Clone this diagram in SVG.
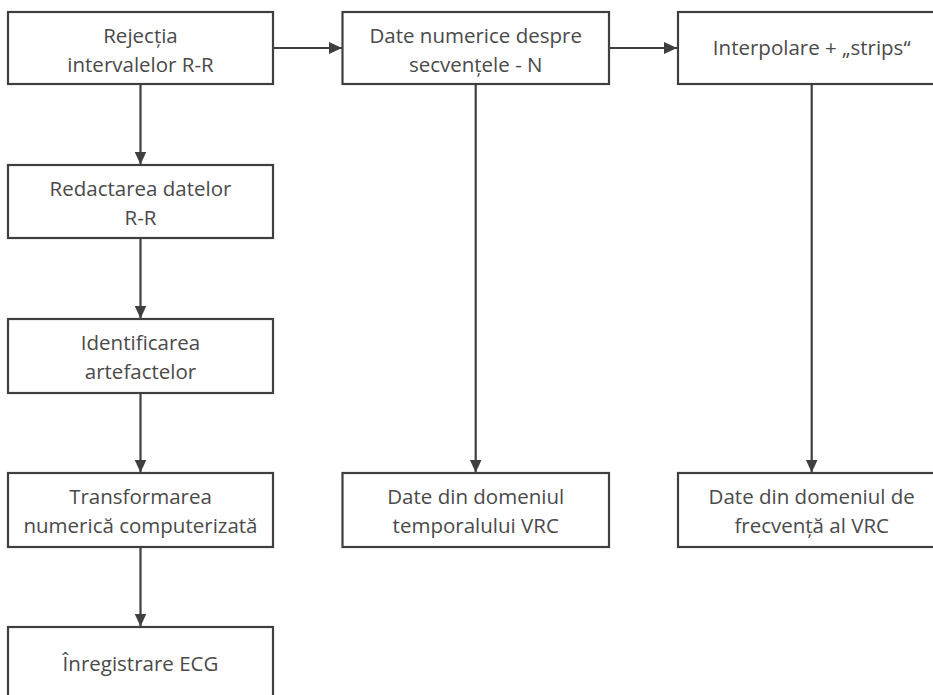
<svg xmlns="http://www.w3.org/2000/svg" width="933" height="695" viewBox="0 0 933 695">
<style>
.box{fill:#fff;stroke:#3f3f3f;stroke-width:2.2}
.t{font-family:"Open Sans","Noto Sans",sans-serif;font-size:20.5px;fill:#4a4a4a;text-anchor:middle}
.c{stroke:#3f3f3f;stroke-width:2.2;fill:none;marker-end:url(#ah)}
</style>
<defs>
<marker id="ah" markerUnits="userSpaceOnUse" markerWidth="14" markerHeight="14" viewBox="0 0 14 14" refX="13" refY="7" orient="auto">
<path d="M0,1 L13,7 L0,13 Z" fill="#3f3f3f"/>
</marker>
</defs>
<rect width="933" height="695" fill="#fff"/>
<g id="connectors">
<line class="c" x1="273" y1="48" x2="342" y2="48"/>
<line class="c" x1="609" y1="48" x2="677" y2="48"/>
<line class="c" x1="140.5" y1="84" x2="140.5" y2="164.5"/>
<line class="c" x1="140.5" y1="238" x2="140.5" y2="318.5"/>
<line class="c" x1="140.5" y1="393" x2="140.5" y2="472.5"/>
<line class="c" x1="140.5" y1="547" x2="140.5" y2="626.5"/>
<line class="c" x1="475.7" y1="84" x2="475.7" y2="472.5"/>
<line class="c" x1="811.7" y1="84" x2="811.7" y2="472.5"/>
</g>
<g id="n1"><rect class="box" x="8" y="12" width="265" height="72"/>
<text class="t" x="140.5" y="43">Rejecția</text><text class="t" x="140.5" y="71.5">intervalelor R-R</text></g>
<g id="n2"><rect class="box" x="342.5" y="12" width="266.5" height="72"/>
<text class="t" x="475.7" y="43">Date numerice despre</text><text class="t" x="475.7" y="71.5">secvențele - N</text></g>
<g id="n3"><rect class="box" x="678" y="12" width="267.5" height="72"/>
<text class="t" x="811.7" y="55">Interpolare + „strips“</text></g>
<g id="n4"><rect class="box" x="8" y="165" width="265" height="73"/>
<text class="t" x="140.5" y="196">Redactarea datelor</text><text class="t" x="140.5" y="224.5">R-R</text></g>
<g id="n5"><rect class="box" x="8" y="319" width="265" height="74"/>
<text class="t" x="140.5" y="350">Identificarea</text><text class="t" x="140.5" y="378.5">artefactelor</text></g>
<g id="n6"><rect class="box" x="8" y="473" width="265" height="74"/>
<text class="t" x="140.5" y="504">Transformarea</text><text class="t" x="140.5" y="532.5">numerică computerizată</text></g>
<g id="n7"><rect class="box" x="8" y="627" width="265" height="80"/>
<text class="t" x="140.5" y="671">Înregistrare ECG</text></g>
<g id="n8"><rect class="box" x="342.5" y="473" width="266.5" height="74"/>
<text class="t" x="475.7" y="504">Date din domeniul</text><text class="t" x="475.7" y="532.5">temporalului VRC</text></g>
<g id="n9"><rect class="box" x="678" y="473" width="267.5" height="74"/>
<text class="t" x="811.7" y="504">Date din domeniul de</text><text class="t" x="811.7" y="532.5">frecvență al VRC</text></g>
</svg>
